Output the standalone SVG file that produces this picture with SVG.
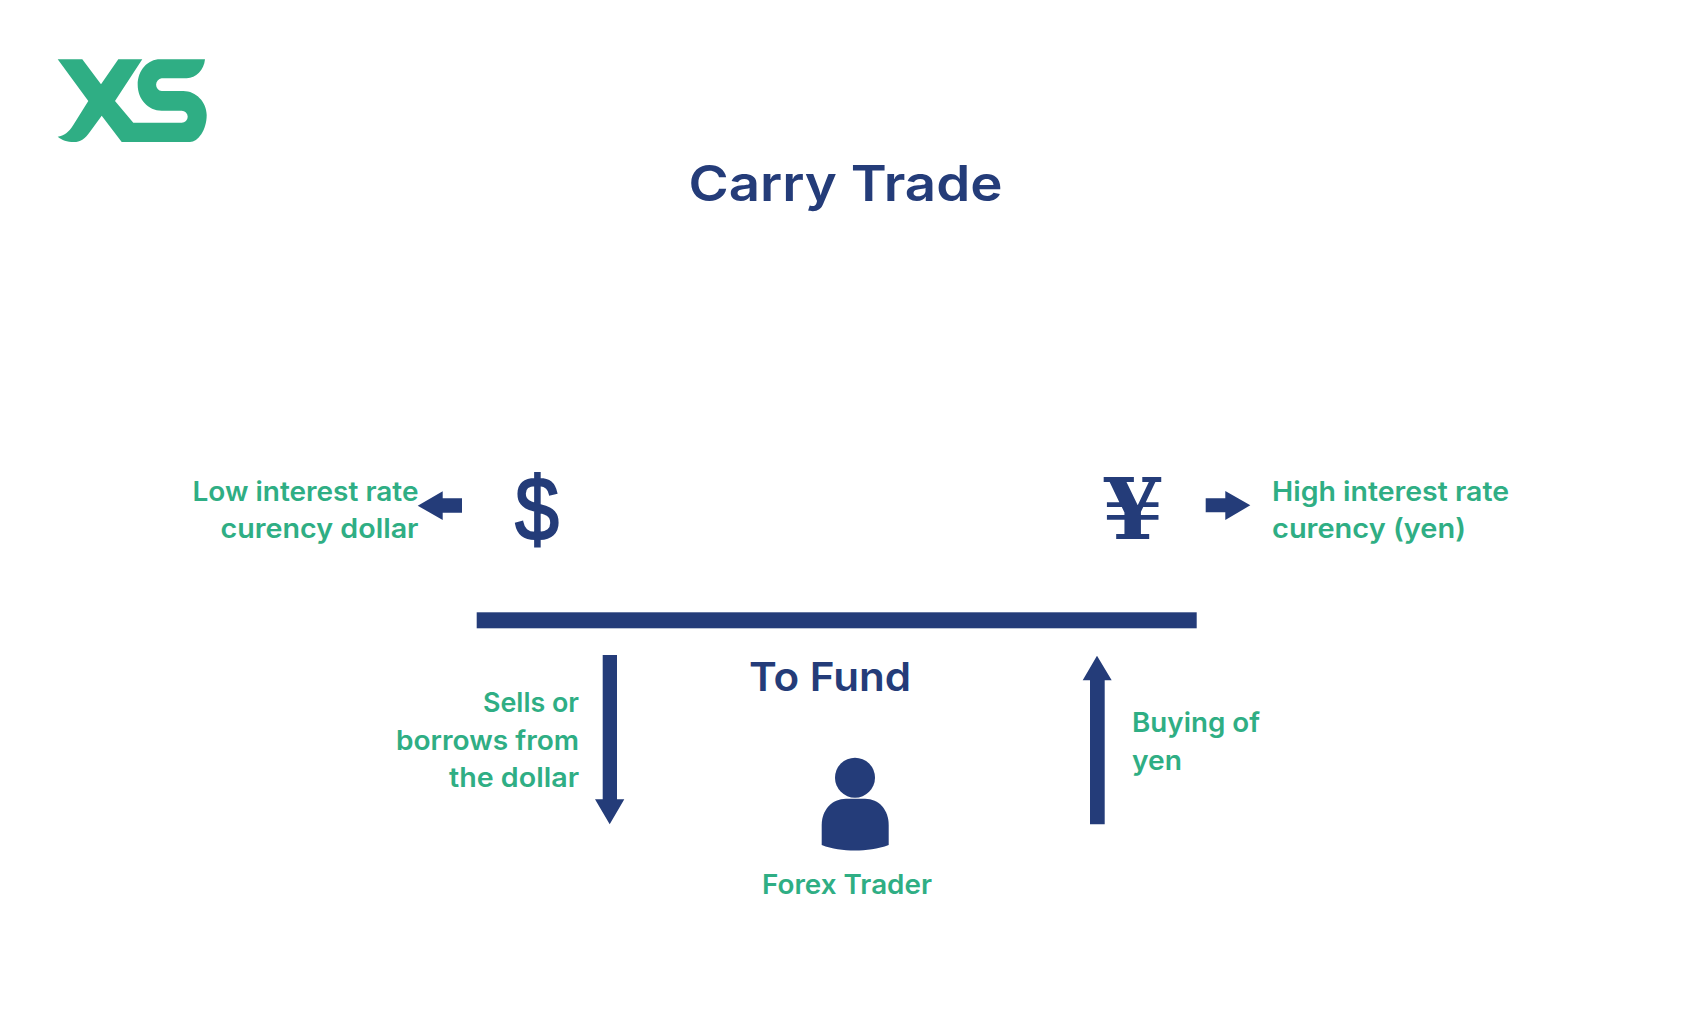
<svg xmlns="http://www.w3.org/2000/svg" width="1691" height="1015" viewBox="0 0 1691 1015">
<style>
.navy{fill:#243c79}
.grn{fill:#2fae84}
text{font-family:"Inter","Noto Sans","Liberation Sans",sans-serif}
.lbl{font-size:27px;font-weight:600;fill:#2fae84}
.end{text-anchor:end}
</style>
<rect width="1691" height="1015" fill="#ffffff"/>
<g id="logo" class="grn">
<path d="M57.7 59.3H82.3L101 84.3L118.3 59.3H142.3L115 101L133.3 122.7H181.7A6 6 0 0 0 181.7 110.7H161.7C148 110.7 137.700 99 137.700 85C137.700 70 148 59.300 160 59.300H205C204 70 196 78.300 186.700 78.300H161.700A6.400 6.400 0 0 0 161.700 91H183.300C196 91 206.700 102 206.700 115C206.700 130 198 142 190 142H121.700L101.700 115.700L90 131.700C85 139 80 142 74 142C67 142 62 140 57.700 136.700C64 136 69 132 73.300 125L88.300 101Z"/>
</g>
<g id="title"><text x="845.500" y="200.500" text-anchor="middle" font-size="50" font-weight="600" class="navy" textLength="314" lengthAdjust="spacingAndGlyphs">Carry Trade</text></g>
<g id="low-rate"><text class="lbl end" x="418.500" y="500.500" textLength="226" lengthAdjust="spacingAndGlyphs">Low interest rate</text><text class="lbl end" x="418.500" y="537.500" textLength="198" lengthAdjust="spacingAndGlyphs">curency dollar</text></g>
<g id="dollar"><text x="537" y="540" text-anchor="middle" font-size="90" stroke="#243c79" stroke-width="2" class="navy" textLength="44" lengthAdjust="spacingAndGlyphs" style="font-family:'Liberation Sans',sans-serif">$</text></g>
<g id="yen"><text x="1133" y="539" text-anchor="middle" font-size="84" font-weight="700" class="navy" textLength="62" lengthAdjust="spacingAndGlyphs" style="font-family:'DejaVu Serif',serif">¥</text></g>
<g id="high-rate"><text class="lbl" x="1272" y="500.500" textLength="237" lengthAdjust="spacingAndGlyphs">High interest rate</text><text class="lbl" x="1272" y="537.500" textLength="194" lengthAdjust="spacingAndGlyphs">curency (yen)</text></g>
<g id="connectors" class="navy">
<rect x="476.700" y="612.300" width="720" height="16"/>
<path d="M462 498.300H442.700V491.300L417.700 505.700L442.700 520V512.700H462Z"/>
<path d="M1205.700 498.300H1225.300V491L1250.300 505.300L1225.300 520V512.300H1205.700Z"/>
<path d="M602.700 655H617V799.300H624.300L609.700 824.300L595 799.300H602.700Z"/>
<path d="M1090 824.300H1104.700V680.300H1111.700L1097 655.700L1082.700 680.300H1090Z"/>
</g>
<g id="to-fund"><text x="830" y="690.500" text-anchor="middle" font-size="40" font-weight="600" class="navy" textLength="162" lengthAdjust="spacingAndGlyphs">To Fund</text></g>
<g id="sells"><text class="lbl end" x="579" y="711.700" textLength="96" lengthAdjust="spacingAndGlyphs">Sells or</text><text class="lbl end" x="579" y="749.700" textLength="183" lengthAdjust="spacingAndGlyphs">borrows from</text><text class="lbl end" x="579" y="786.700" textLength="130" lengthAdjust="spacingAndGlyphs">the dollar</text></g>
<g id="buying"><text class="lbl" x="1132" y="732.300" textLength="128" lengthAdjust="spacingAndGlyphs">Buying of</text><text class="lbl" x="1132" y="770" textLength="50" lengthAdjust="spacingAndGlyphs">yen</text></g>
<g id="trader" class="navy">
<circle cx="855" cy="777.700" r="20"/>
<path d="M821.700 845V825C821.700 810 832 798.700 846 798.700H865C879 798.700 888.700 810 888.700 825V845C878 849 866 850.500 855 850.500C843 850.500 832 849 821.700 845Z"/>
</g>
<g id="forex-trader"><text class="lbl" x="847" y="893.500" text-anchor="middle" textLength="170" lengthAdjust="spacingAndGlyphs">Forex Trader</text></g>
</svg>
